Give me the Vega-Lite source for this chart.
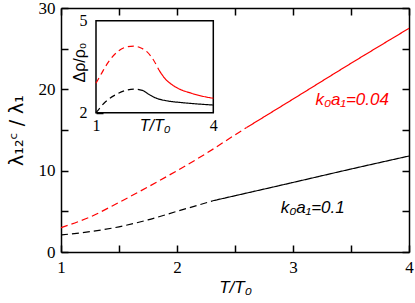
{
  "$schema": "https://vega.github.io/schema/vega-lite/v6.json",
  "width": 348,
  "height": 244,
  "autosize": "none",
  "padding": {"left": 61, "top": 8, "right": 6, "bottom": 51},
  "background": "white",
  "config": {
    "view": {"stroke": null},
    "axis": {
      "grid": false,
      "domainColor": "#000000",
      "domainWidth": 1.5,
      "ticks": true,
      "tickColor": "#000000",
      "tickWidth": 1.5,
      "labelFont": "Liberation Serif",
      "labelFontSize": 17,
      "labelColor": "#000000",
      "labelFlush": false,
      "labelOverlap": false,
      "titleFont": "Liberation Sans",
      "titleFontSize": 17,
      "titleFontWeight": "normal",
      "titleColor": "#000000",
      "zindex": 1
    }
  },
  "datasets": {
    "main": [
      {"k": "0.04", "seg": "dash", "T": 1.0, "v": 3.0},
      {"k": "0.04", "seg": "dash", "T": 1.25, "v": 4.3},
      {"k": "0.04", "seg": "dash", "T": 1.5, "v": 6.1},
      {"k": "0.04", "seg": "dash", "T": 1.75, "v": 8.0},
      {"k": "0.04", "seg": "dash", "T": 2.0, "v": 10.0},
      {"k": "0.04", "seg": "dash", "T": 2.25, "v": 12.1},
      {"k": "0.04", "seg": "dash", "T": 2.5, "v": 14.4},
      {"k": "0.04", "seg": "dash", "T": 2.6, "v": 15.3},
      {"k": "0.04", "seg": "solid", "T": 2.6, "v": 15.3},
      {"k": "0.04", "seg": "solid", "T": 3.0, "v": 18.8},
      {"k": "0.04", "seg": "solid", "T": 3.5, "v": 23.2},
      {"k": "0.04", "seg": "solid", "T": 4.0, "v": 27.5},
      {"k": "0.1", "seg": "dash", "T": 1.0, "v": 2.1},
      {"k": "0.1", "seg": "dash", "T": 1.25, "v": 2.5},
      {"k": "0.1", "seg": "dash", "T": 1.5, "v": 3.1},
      {"k": "0.1", "seg": "dash", "T": 1.75, "v": 3.95},
      {"k": "0.1", "seg": "dash", "T": 2.0, "v": 5.0},
      {"k": "0.1", "seg": "dash", "T": 2.31, "v": 6.3},
      {"k": "0.1", "seg": "solid", "T": 2.31, "v": 6.3},
      {"k": "0.1", "seg": "solid", "T": 3.0, "v": 8.55},
      {"k": "0.1", "seg": "solid", "T": 3.5, "v": 10.2},
      {"k": "0.1", "seg": "solid", "T": 4.0, "v": 11.8}
    ],
    "inset": [
      {"k": "0.04", "seg": "dash", "T": 1.0, "v": 2.96},
      {"k": "0.04", "seg": "dash", "T": 1.15, "v": 3.3},
      {"k": "0.04", "seg": "dash", "T": 1.32, "v": 3.66},
      {"k": "0.04", "seg": "dash", "T": 1.57, "v": 4.01},
      {"k": "0.04", "seg": "dash", "T": 1.8, "v": 4.15},
      {"k": "0.04", "seg": "dash", "T": 1.98, "v": 4.17},
      {"k": "0.04", "seg": "dash", "T": 2.15, "v": 4.11},
      {"k": "0.04", "seg": "dash", "T": 2.3, "v": 3.99},
      {"k": "0.04", "seg": "dash", "T": 2.47, "v": 3.72},
      {"k": "0.04", "seg": "dash", "T": 2.61, "v": 3.39},
      {"k": "0.04", "seg": "solid", "T": 2.61, "v": 3.39},
      {"k": "0.04", "seg": "solid", "T": 2.76, "v": 3.12},
      {"k": "0.04", "seg": "solid", "T": 3.02, "v": 2.85},
      {"k": "0.04", "seg": "solid", "T": 3.45, "v": 2.63},
      {"k": "0.04", "seg": "solid", "T": 4.0, "v": 2.47},
      {"k": "0.1", "seg": "dash", "T": 1.0, "v": 2.0},
      {"k": "0.1", "seg": "dash", "T": 1.23, "v": 2.34},
      {"k": "0.1", "seg": "dash", "T": 1.57, "v": 2.63},
      {"k": "0.1", "seg": "dash", "T": 1.8, "v": 2.74},
      {"k": "0.1", "seg": "dash", "T": 2.0, "v": 2.77},
      {"k": "0.1", "seg": "dash", "T": 2.21, "v": 2.72},
      {"k": "0.1", "seg": "solid", "T": 2.21, "v": 2.72},
      {"k": "0.1", "seg": "solid", "T": 2.51, "v": 2.49},
      {"k": "0.1", "seg": "solid", "T": 2.85, "v": 2.38},
      {"k": "0.1", "seg": "solid", "T": 3.19, "v": 2.33},
      {"k": "0.1", "seg": "solid", "T": 4.0, "v": 2.25}
    ],
    "labels": [
      {"k": "0.04", "T": 3.51, "v": 18.1, "text": "k₀a₁=0.04"},
      {"k": "0.1", "T": 3.17, "v": 4.85, "text": "k₀a₁=0.1"}
    ]
  },
  "layer": [
    {
      "data": {"name": "main"},
      "mark": {"type": "line", "strokeWidth": 1.2, "interpolate": "monotone"},
      "encoding": {
        "x": {
          "field": "T", "type": "quantitative",
          "scale": {"domain": [1, 4], "nice": false, "zero": false},
          "axis": {
            "orient": "bottom",
            "values": [1, 1.5, 2, 2.5, 3, 3.5, 4],
            "labelExpr": "datum.value % 1 === 0 ? format(datum.value, 'd') : ''",
            "labelFont": "Liberation Serif",
            "tickSize": -7,
            "labelPadding": 27,
            "labelBaseline": "alphabetic",
            "title": "T/T₀",
            "titleFontStyle": "italic",
            "titleBaseline": "alphabetic",
            "titleY": 40,
            "encode": {"ticks": {"update": {"stroke": {"value": "#000000"}, "strokeWidth": {"value": 1.5}, "strokeOpacity": {"value": 1}}}}
          }
        },
        "y": {
          "field": "v", "type": "quantitative",
          "scale": {"domain": [0, 30], "nice": false, "zero": false},
          "axis": {
            "orient": "left",
            "values": [0, 5, 10, 15, 20, 25, 30],
            "labelExpr": "datum.value % 10 === 0 ? format(datum.value, 'd') : ''",
            "labelFont": "Liberation Serif",
            "tickSize": -7,
            "labelPadding": 13,
            "title": "λ₁₂ᶜ / λ₁",
            "titleFont": "DejaVu Sans",
            "titleFontSize": 19,
            "titleBaseline": "middle",
            "titleX": -45,
            "encode": {"ticks": {"update": {"stroke": {"value": "#000000"}, "strokeWidth": {"value": 1.5}, "strokeOpacity": {"value": 1}}}}
          }
        },
        "color": {
          "field": "k", "type": "nominal",
          "scale": {"domain": ["0.04", "0.1"], "range": ["#ff0000", "#000000"]},
          "legend": null
        },
        "strokeDash": {
          "field": "seg", "type": "nominal",
          "scale": {"domain": ["dash", "solid"], "range": [[7, 4], [1, 0]]},
          "legend": null
        }
      }
    },
    {
      "data": {"name": "labels"},
      "mark": {"type": "text", "font": "Liberation Sans", "fontStyle": "italic", "fontSize": 17, "align": "center", "baseline": "alphabetic"},
      "encoding": {
        "x": {
          "field": "T", "type": "quantitative",
          "scale": {"domain": [1, 4], "nice": false, "zero": false},
          "axis": {"orient": "top", "values": [1, 1.5, 2, 2.5, 3, 3.5, 4], "labels": false, "tickSize": -7, "title": null,
            "encode": {"ticks": {"update": {"stroke": {"value": "#000000"}, "strokeWidth": {"value": 1.5}, "strokeOpacity": {"value": 1}}}}}
        },
        "y": {
          "field": "v", "type": "quantitative",
          "scale": {"domain": [0, 30], "nice": false, "zero": false},
          "axis": {"orient": "right", "values": [0, 5, 10, 15, 20, 25, 30], "labels": false, "tickSize": -7, "title": null,
            "encode": {"ticks": {"update": {"stroke": {"value": "#000000"}, "strokeWidth": {"value": 1.5}, "strokeOpacity": {"value": 1}}}}}
        },
        "text": {"field": "text"},
        "color": {
          "field": "k", "type": "nominal",
          "scale": {"domain": ["0.04", "0.1"], "range": ["#ff0000", "#000000"]},
          "legend": null
        }
      }
    },
    {
      "layer": [
        {
          "data": {"values": [{"x1": 1, "x2": 4, "y1": 2, "y2": 5}]},
          "mark": {"type": "rect", "fill": "white", "stroke": "#000000", "strokeWidth": 1.5},
          "encoding": {
            "x": {"field": "x1", "type": "quantitative"},
            "x2": {"field": "x2"},
            "y": {"field": "y1", "type": "quantitative"},
            "y2": {"field": "y2"}
          }
        },
        {
          "data": {"name": "inset"},
          "mark": {"type": "line", "strokeWidth": 1.2, "interpolate": "monotone"},
          "encoding": {
            "x": {"field": "T", "type": "quantitative"},
            "y": {"field": "v", "type": "quantitative"},
            "color": {
              "field": "k", "type": "nominal",
              "scale": {"domain": ["0.04", "0.1"], "range": ["#ff0000", "#000000"]},
              "legend": null
            },
            "strokeDash": {
              "field": "seg", "type": "nominal",
              "scale": {"domain": ["dash", "solid"], "range": [[6, 4], [1, 0]]},
              "legend": null
            }
          }
        }
      ],
      "encoding": {
        "x": {
          "type": "quantitative",
          "scale": {"domain": [1, 4], "nice": false, "zero": false, "range": [35, 152.3]},
          "axis": {
            "orient": "bottom",
            "offset": -139.3,
            "values": [1, 4],
            "labelExpr": "format(datum.value, 'd')",
            "domain": false,
            "ticks": false,
            "labelPadding": 18,
            "labelBaseline": "alphabetic",
            "labelFontSize": 16,
            "title": "T/T₀",
            "titleFontStyle": "italic",
            "titleFontSize": 16,
            "titleBaseline": "alphabetic",
            "titleY": 18
          }
        },
        "y": {
          "type": "quantitative",
          "scale": {"domain": [2, 5], "nice": false, "zero": false, "range": [104.7, 12.7]},
          "axis": {
            "orient": "left",
            "offset": -35,
            "values": [2, 2.5, 5],
            "labelExpr": "datum.value === 2.5 ? '' : format(datum.value, 'd')",
            "domain": false,
            "tickSize": -7,
            "labelPadding": 16,
            "labelFontSize": 16,
            "title": "Δρ/ρ₀",
            "titleFontSize": 16,
            "titleBaseline": "middle",
            "titleX": -17,
            "titleY": 54,
            "encode": {"ticks": {"update": {"stroke": {"value": "#000000"}, "strokeWidth": {"value": 1.5}, "strokeOpacity": {"value": 1}}}}
          }
        }
      }
    }
  ],
  "resolve": {
    "scale": {"x": "independent", "y": "independent", "color": "shared", "strokeDash": "independent"},
    "axis": {"x": "independent", "y": "independent"}
  }
}
